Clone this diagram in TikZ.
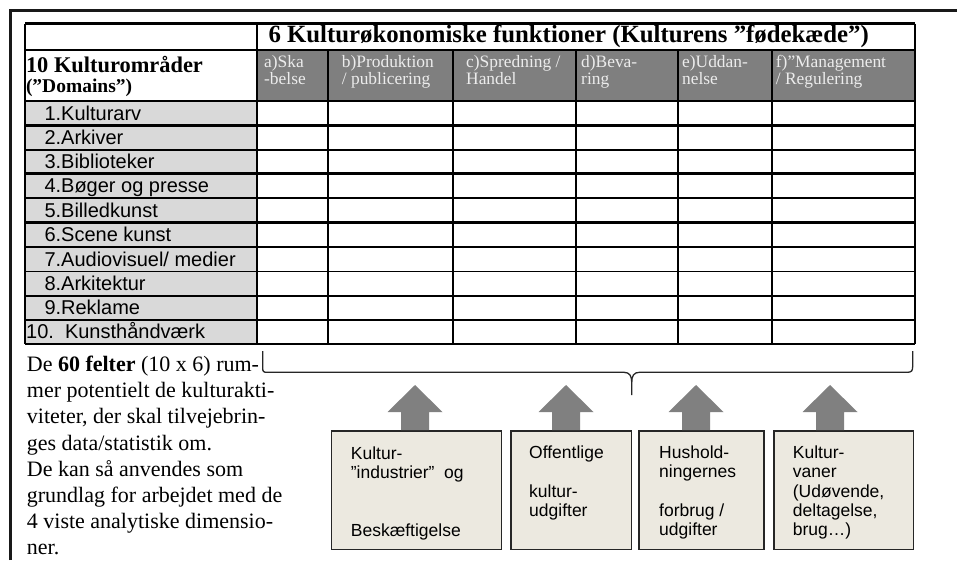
\documentclass[tikz,border=0pt]{standalone}
\usepackage{fontspec}
\setmainfont{Liberation Serif}
\setsansfont{Liberation Sans}
\usetikzlibrary{calc}
\definecolor{boxbg}{RGB}{236,233,224}
\definecolor{hdgray}{RGB}{127,127,127}
\definecolor{lblgray}{RGB}{217,217,217}
\definecolor{hdtext}{RGB}{236,236,236}
\definecolor{arrgray}{RGB}{128,128,128}
\tikzset{
  thickline/.style={line width=2.2pt, black},
  thinline/.style={line width=1.2pt, black},
  rowlabel/.style={anchor=base west, inner sep=0pt, font=\sffamily\fontsize{20}{24}\selectfont},
  subhead/.style={anchor=base west, inner sep=0pt, text=hdtext, font=\rmfamily\fontsize{17.4}{20}\selectfont},
  bodytxt/.style={anchor=base west, inner sep=0pt, font=\rmfamily\fontsize{22}{26}\selectfont},
  boxtxt/.style={anchor=base west, inner sep=0pt, font=\sffamily\fontsize{17.5}{19}\selectfont},
  databox/.style={draw=black!85, fill=boxbg, line width=1.5pt, anchor=north west, inner sep=0pt, outer sep=0pt},
  bracepath/.style={draw=black!85, line width=1.3pt},
  blockup/.pic={\fill[arrgray] (-14,0) -- (-14,-18) -- (-27.5,-18) -- (0,-45) -- (27.5,-18) -- (14,-18) -- (14,0) -- cycle;}
}
\begin{document}
\begin{tikzpicture}[x=1pt,y=-1pt]
\useasboundingbox (0,0) rectangle (957,560);
% outer frame
\draw[line width=3pt, black!90] (10,560) -- (10,10) -- (957,10);
% fills
\fill[hdgray] (257,50) rectangle (915,101);
\fill[lblgray] (25,101) rectangle (257,344);
% horizontal lines
\draw[thickline] (25,23.5) -- (915,23.5);
\draw[thinline] (25,50) -- (915,50);
\foreach \yy in {101,125.5,150,173.5,198,222.5,296,320,344}
  \draw[thickline] (25,\yy) -- (915,\yy);
\foreach \yy in {247,271.5}
  \draw[thinline] (25,\yy) -- (915,\yy);
% vertical lines
\draw[thickline] (25,23.5) -- (25,344);
\draw[thickline] (915,23.5) -- (915,344);
\draw[line width=1.6pt] (257,23.5) -- (257,344);
\foreach \xx in {328,453}
  \draw[line width=1.6pt] (\xx,50) -- (\xx,344);
\foreach \xx in {576,678,772}
  \draw[thickline] (\xx,50) -- (\xx,344);
% header texts
\node[anchor=base west, inner sep=0pt, font=\rmfamily\bfseries\fontsize{24.8}{28}\selectfont] (title) at (268.3,42.5) {6 Kulturøkonomiske funktioner (Kulturens ”fødekæde”)};
\node[anchor=base west, inner sep=0pt, font=\rmfamily\bfseries\fontsize{22.4}{26}\selectfont] (dom1) at (25.8,72.7) {10 Kulturområder};
\node[anchor=base west, inner sep=0pt, font=\rmfamily\bfseries\fontsize{19.5}{22}\selectfont] (dom2) at (25.8,92.5) {(”Domains”)};
% sub headers
\node[subhead] (a1) at (264,67.5) {a)Ska};
\node[subhead] (a2) at (264,84.5) {-belse};
\node[subhead] (b1h) at (341.7,67.5) {b)Produktion};
\node[subhead] (b2h) at (341.7,84.5) {/ publicering};
\node[subhead] (c1h) at (466,67.5) {c)Spredning /};
\node[subhead] (c2h) at (466,84.5) {Handel};
\node[subhead] (d1h) at (581,67.5) {d)Beva-};
\node[subhead] (d2h) at (581,84.5) {ring};
\node[subhead] (e1h) at (682,67.5) {e)Uddan-};
\node[subhead] (e2h) at (682,84.5) {nelse};
\node[subhead] (f1h) at (775.7,67.5) {f)”Management};
\node[subhead] (f2h) at (775.7,84.5) {/ Regulering};
% row labels
\node[rowlabel] (r1) at (44.3,120) {1.Kulturarv};
\node[rowlabel] (r2) at (44.3,144.5) {2.Arkiver};
\node[rowlabel] (r3) at (44.3,168) {3.Biblioteker};
\node[rowlabel] (r4) at (44.3,192.5) {4.Bøger og presse};
\node[rowlabel] (r5) at (44.3,217) {5.Billedkunst};
\node[rowlabel] (r6) at (44.3,241.5) {6.Scene kunst};
\node[rowlabel] (r7) at (44.3,266) {7.Audiovisuel/ medier};
\node[rowlabel] (r8) at (44.3,290.5) {8.Arkitektur};
\node[rowlabel] (r9) at (44.3,314.5) {9.Reklame};
\node[rowlabel] (r10) at (26,338) {10.\hspace{0.18em} Kunsthåndværk};
% body text
\node[bodytxt] (t1) at (26.7,371.7) {De \textbf{60 felter} (10 x 6) rum-};
\node[bodytxt] (t2) at (26.7,397.8) {mer potentielt de kulturakti-};
\node[bodytxt] (t3) at (26.7,423.9) {viteter, der skal tilvejebrin-};
\node[bodytxt] (t4) at (26.7,450.0) {ges data/statistik om.};
\node[bodytxt] (t5) at (26.7,476.1) {De kan så anvendes som};
\node[bodytxt] (t6) at (26.7,502.2) {grundlag for arbejdet med de};
\node[bodytxt] (t7) at (26.7,528.3) {4 viste analytiske dimensio-};
\node[bodytxt] (t8) at (26.7,554.4) {ner.};
% brace
\draw[bracepath] (262.7,351) -- (262.7,368) .. controls (262.7,371.5) and (263.5,372.3) .. (267,372.3) -- (624,372.3) .. controls (629.5,372.3) and (631.7,376) .. (631.7,382) -- (631.7,395);
\draw[bracepath] (631.7,382) .. controls (631.7,376) and (633.9,372.3) .. (639.4,372.3) -- (907,372.3) .. controls (911.5,372.3) and (912.7,371) .. (912.7,366) -- (912.7,351);
% boxes
\node[databox, minimum width=170pt, minimum height=118.3pt] (box1) at (331.7,431) {};
\node[databox, minimum width=120.7pt, minimum height=118.3pt] (box2) at (511,431) {};
\node[databox, minimum width=125pt, minimum height=118.3pt] (box3) at (639,431) {};
\node[databox, minimum width=139.3pt, minimum height=118.3pt] (box4) at (774,431) {};
% arrows
\pic at (415,430) {blockup};
\pic at (566,430) {blockup};
\pic at (696,430) {blockup};
\pic at (830,430) {blockup};
% box texts
\node[boxtxt] (k1a) at (350.7,459) {Kultur-};
\node[boxtxt] (k1b) at (350.7,478) {"industrier"\ \ og};
\node[boxtxt] (k1c) at (350.7,536) {Beskæftigelse};
\node[boxtxt] (k2a) at (529,458.5) {Offentlige};
\node[boxtxt] (k2b) at (529,497.5) {kultur-};
\node[boxtxt] (k2c) at (529,516.5) {udgifter};
\node[boxtxt] (k3a) at (659,458) {Hushold-};
\node[boxtxt] (k3b) at (659,477) {ningernes};
\node[boxtxt] (k3c) at (659,516.5) {forbrug /};
\node[boxtxt] (k3d) at (659,535.5) {udgifter};
\node[boxtxt] (k4a) at (792.7,458) {Kultur-};
\node[boxtxt] (k4b) at (792.7,477) {vaner};
\node[boxtxt] (k4c) at (792.7,497) {(Udøvende,};
\node[boxtxt] (k4d) at (792.7,516.5) {deltagelse,};
\node[boxtxt] (k4e) at (792.7,535.5) {brug…)};
\end{tikzpicture}
\end{document}
